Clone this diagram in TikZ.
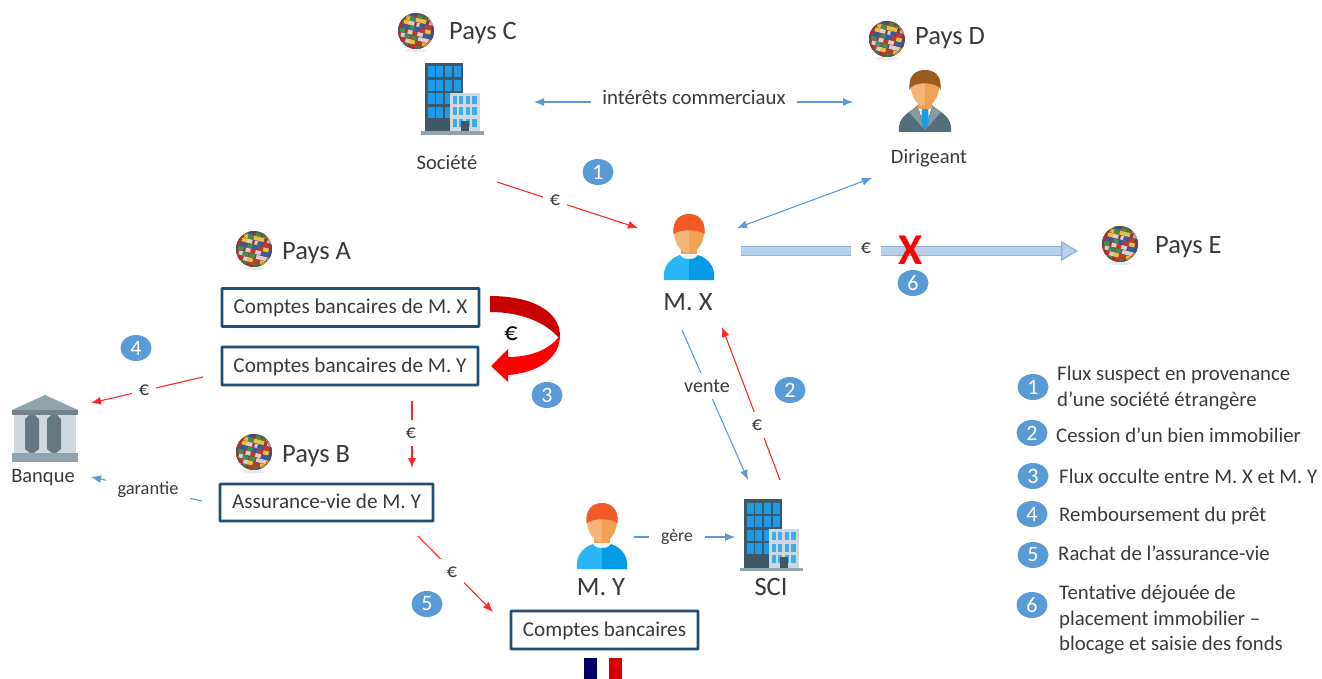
\documentclass[tikz,border=0pt]{standalone}
\usepackage{fontspec}
\setmainfont{Carlito}
\usetikzlibrary{arrows.meta,shapes.geometric}
\definecolor{txt}{HTML}{3A3A3A}
\definecolor{flowblue}{HTML}{5B9BD5}
\definecolor{boxblue}{HTML}{1F4E79}
\definecolor{bigfill}{HTML}{B7CFE8}
\definecolor{bigline}{HTML}{8FB2D8}
\definecolor{frame}{HTML}{3F5866}
\definecolor{win}{HTML}{1E9BE8}
\definecolor{lightframe}{HTML}{CFD8DC}
\definecolor{slate}{HTML}{90A4AE}
\definecolor{hair}{HTML}{F15A24}
\definecolor{faceA}{HTML}{F4B678}
\definecolor{faceB}{HTML}{F2A052}
\definecolor{bodyA}{HTML}{29B6F6}
\definecolor{bodyB}{HTML}{039BE5}
\definecolor{brownhair}{HTML}{9C5B1E}
\definecolor{suit}{HTML}{546E7A}
\definecolor{gA}{HTML}{C0392B}
\definecolor{gB}{HTML}{2E5FA3}
\definecolor{gC}{HTML}{E8C33A}
\definecolor{gD}{HTML}{3F8F4F}
\definecolor{gE}{HTML}{D9CFCF}
\definecolor{gF}{HTML}{8E3B46}
\tikzset{
  lbl/.style={text=txt,font=\fontsize{20.5}{24}\selectfont,inner sep=0pt,yshift=-2pt},
  big/.style={text=txt,font=\fontsize{26.5}{30}\selectfont,inner sep=0pt,yshift=-2pt},
  legend/.style={text=txt,font=\fontsize{20.8}{25.5}\selectfont,inner sep=0pt,anchor=west,align=left,yshift=-2pt},
  gap/.style={fill=white,text=txt,font=\fontsize{20}{22}\selectfont,inner xsep=7pt,inner ysep=3pt},
  badge/.style={ellipse,fill=flowblue,text=white,minimum width=31pt,minimum height=26pt,inner sep=0pt,font=\fontsize{22}{24}\selectfont},
  acct/.style={draw=boxblue,line width=2.6pt,fill=white,rounded corners=0.5pt,text=txt,font=\fontsize{21.2}{24}\selectfont,inner sep=0pt,text height=14.7pt,text depth=2.7pt},
  redflow/.style={draw=red!85,line width=1.1pt,-{Latex[length=10pt,width=8pt]}},
  blueflow/.style={draw=flowblue,line width=1.1pt,-{Latex[length=10pt,width=8pt]}},
  blueboth/.style={draw=flowblue,line width=1.1pt,{Latex[length=10pt,width=8pt]}-{Latex[length=10pt,width=8pt]}},
  bigflow/.style={draw=bigline,double=bigfill,double distance=7.5pt,line width=1.3pt,-{Triangle[length=17pt,width=20pt,fill=bigfill,color=bigline,line width=1.3pt]}},
  globe/.pic={
    \fill[black!8] (0,19.5) ellipse (11 and 1.8);
    \begin{scope}
      \clip (0,0) circle (18);
      \fill[gF] (-18,-18) rectangle (18,18);
      \pgfmathsetseed{23}
      \begin{scope}[rotate=-14]
      \foreach \cy in {-22,-17.5,...,20} {
        \foreach \cx in {-22,-16,...,20} {
          \pgfmathrandominteger{\k}{1}{6}
          \pgfmathrandominteger{\o}{0}{3}
          \ifcase\k\or\def\col{gA}\or\def\col{gB}\or\def\col{gC}\or\def\col{gD}\or\def\col{gE}\or\def\col{gA}\fi
          \fill[\col] (\cx+\o,\cy) rectangle (\cx+\o+5.6,\cy+4);
        }
      }
      \end{scope}
      \draw[gF!70!black,opacity=.3,line width=3pt] (0,0) circle (17.5);
    \end{scope}
  },
  tower/.pic={
    \fill[frame] (0,0) rectangle (38,69);
    \foreach \i in {0,1,2,3} \foreach \j in {0,1,2,3}
      \fill[win] (2.5+\i*8.8,3.5+\j*13.5) rectangle (9.5+\i*8.8,14.5+\j*13.5);
    \fill[lightframe] (25,30) rectangle (55,69);
    \foreach \i in {0,1,2,3} \foreach \j in {0,1,2}
      \fill[win!85] (27.5+\i*6.6,33+\j*11.5) rectangle (31.8+\i*6.6,41+\j*11.5);
    \fill[frame] (36,58) rectangle (44,69);
    \fill[slate] (-4,68.5) rectangle (59,72);
  },
  personicon/.pic={
    \fill[faceB] (-8,30) rectangle (8,44);
    \fill[white!92!gray] (-10,40) -- (10,40) -- (8,46) -- (-8,46) -- cycle;
    \fill[bodyA] (-25,66) .. controls (-27,52) and (-18,44) .. (-9,41) .. controls (-6,45) and (-3,45) .. (0,45) -- (0,66) -- cycle;
    \fill[bodyB] (25,66) .. controls (27,52) and (18,44) .. (9,41) .. controls (6,45) and (3,45) .. (0,45) -- (0,66) -- cycle;
    \fill[faceA] (-15.5,14) -- (0,14) -- (0,39) .. controls (-9,39) and (-15.5,28) .. (-15.5,14) -- cycle;
    \fill[faceB] (15.5,14) -- (0,14) -- (0,39) .. controls (9,39) and (15.5,28) .. (15.5,14) -- cycle;
    \fill[hair] (-15.5,20) .. controls (-17,5) and (-8,0) .. (0,0) .. controls (8,0) and (17,5) .. (15.5,20) .. controls (8,15) and (-8,15) .. (-15.5,20) -- cycle;
  },
  managericon/.pic={
    \fill[suit] (-26,62) .. controls (-28,46) and (-14,42) .. (-7,35) -- (7,35) .. controls (14,42) and (28,46) .. (26,62) -- cycle;
    \fill[suit!70!white] (-16,42) -- (-7,36) -- (-2,58) -- cycle;
    \fill[suit!70!white] (16,42) -- (7,36) -- (2,58) -- cycle;
    \fill[white] (-7,36) -- (7,36) -- (0,60) -- cycle;
    \fill[win] (-3,38) -- (3,38) -- (4,52) -- (0,60) -- (-4,52) -- cycle;
    \fill[faceB] (-7,28) rectangle (7,39);
    \fill[faceA] (-15,8) -- (0,8) -- (0,36) .. controls (-10,36) and (-15,24) .. (-15,8) -- cycle;
    \fill[faceB] (15,8) -- (0,8) -- (0,36) .. controls (10,36) and (15,24) .. (15,8) -- cycle;
    \fill[brownhair] (-15.5,20) .. controls (-17,4) and (-8,0) .. (0,0) .. controls (8,0) and (17,4) .. (15.5,20) .. controls (14,11) and (-14,11) .. (-15.5,20) -- cycle;
  },
  bankicon/.pic={
    \fill[lightframe] (2,20) rectangle (64,58);
    \fill[slate] (33,0) -- (66,15) -- (0,15) -- cycle;
    \fill[slate!80!black] (0,15) rectangle (66,20);
    \foreach \x in {13,35} {
      \fill[frame!80] (\x,24) -- (\x+4,20) -- (\x+10,20) -- (\x+14,24) -- (\x+14,54) -- (\x+9,58) -- (\x+5,58) -- (\x,54) -- cycle;
    }
    \fill[slate] (0,58) rectangle (66,67);
  }
}
\begin{document}
\begin{tikzpicture}[x=1pt,y=-1pt]
\useasboundingbox (0,0) rectangle (1322,679);
% pays
\pic at (416,31) {globe}; \node[big,anchor=west] (paysC) at (449,31) {Pays C};
\pic at (887,39) {globe}; \node[big,anchor=west] (paysD) at (915,36) {Pays D};
\pic at (254,249) {globe}; \node[big,anchor=west] (paysA) at (282,251) {Pays A};
\pic at (254,452) {globe}; \node[big,anchor=west] (paysB) at (282,454) {Pays B};
\pic at (1120,244) {globe}; \node[big,anchor=west] (paysE) at (1155,245) {Pays E};
% icons
\pic at (425,63) {tower};
\pic at (744,499) {tower};
\pic at (925,70) {managericon};
\pic at (689,214) {personicon};
\pic at (602,503) {personicon};
\pic at (12,395) {bankicon};
% labels
\node[lbl] (soc) at (447,161) {Société};
\node[lbl] (dir) at (929,156) {Dirigeant};
\node[big] (mx) at (688,300) {M. X};
\node[big] (my) at (601,585) {M. Y};
\node[big] (sci) at (771,585) {SCI};
\node[lbl] (banque) at (43,476) {Banque};
% boxes
\node[acct,minimum width=257pt,minimum height=38pt] (bx) at (350.5,307.5) {Comptes bancaires de M. X};
\node[acct,minimum width=256pt,minimum height=38pt] (by) at (350,366) {Comptes bancaires de M. Y};
\node[acct,minimum width=213pt,minimum height=37pt] (bv) at (326.5,502.5) {Assurance-vie de M. Y};
\node[acct,minimum width=187pt,minimum height=38pt] (bc) at (604.5,630) {Comptes bancaires};
% flag
\fill[blue!40!black] (584,658) rectangle (597,679);
\fill[red!85!black] (609,658) rectangle (622,679);
% endpoints
\coordinate (a2) at (534,102); \coordinate (a3) at (853,102);
\coordinate (s1) at (497,182); \coordinate (s2) at (638,228);
\coordinate (d1) at (872,178); \coordinate (d2) at (737,228);
\coordinate (e1) at (741,251); \coordinate (e2) at (1078,251);
\coordinate (v1) at (682,330); \coordinate (v2) at (748,480);
\coordinate (c1) at (780,480); \coordinate (c2) at (722,327);
\coordinate (b1) at (203,377); \coordinate (b2) at (91,403);
\coordinate (y1) at (412,401); \coordinate (y2) at (412,468);
\coordinate (g1) at (202,501); \coordinate (g2) at (91,477);
\coordinate (r1) at (418,536); \coordinate (r2) at (493,612);
\coordinate (m1) at (634,537); \coordinate (m2) at (735,537);
% connectors
\draw[blueboth] (a2) -- (a3);
\draw[redflow] (s1) -- (s2);
\draw[blueboth] (d1) -- (d2);
\draw[bigflow] (e1) -- (e2);
\draw[blueflow] (v1) -- (v2);
\draw[redflow] (c1) -- (c2);
\draw[redflow] (b1) -- (b2);
\draw[redflow] (y1) -- (y2);
\draw[blueflow] (g1) -- (g2);
\draw[redflow] (r1) -- (r2);
\draw[blueflow] (m1) -- (m2);
% connector labels
\node[gap,inner xsep=11pt,font=\fontsize{20.8}{24}\selectfont] (int) at (694,97) {intérêts commerciaux};
\node[gap] (e-s) at (555,200) {€};
\node[gap,inner xsep=10pt,inner ysep=8pt] (e-e) at (866,248) {€};
\node[gap,inner ysep=7pt] (vente) at (707,386) {vente};
\node[gap,inner ysep=8pt] (e-c) at (757,425) {€};
\node[gap] (e-b) at (144,390) {€};
\node[gap,inner ysep=8pt] (e-y) at (411,433) {€};
\node[gap,font=\fontsize{18.4}{20}\selectfont,inner xsep=12pt] (gar) at (148,490) {garantie};
\node[gap,inner ysep=8pt] (e-r) at (452,572) {€};
\node[gap,font=\fontsize{17.6}{20}\selectfont,inner xsep=12pt] (ger) at (677,537) {gère};
% curved arrow
\fill[red!78!black] (490,296) .. controls (530,296) and (560,310) .. (560,336) -- (558,337) .. controls (545,322) and (520,312) .. (490,312) -- cycle;
\fill[red] (560,335) .. controls (560,360) and (535,373) .. (508,375) -- (508,382) -- (491,366) -- (508,349) -- (508,357) .. controls (530,357) and (550,350) .. (560,335) -- cycle;
\node[text=black,inner sep=0pt,font=\fontsize{26}{28}\selectfont] (e-3) at (511,334) {€};
% cross
\node[text=red,inner sep=0pt,font=\fontsize{44}{44}\selectfont\bfseries,text height=28pt,text depth=0pt] (cross) at (911,250) {X};
% badges
\node[badge] (n1) at (598,172) {1};
\node[badge] (n2) at (790,390) {2};
\node[badge] (n3) at (547,395) {3};
\node[badge] (n4) at (136,348) {4};
\node[badge] (n5) at (427,604) {5};
\node[badge] (n6) at (913,283) {6};
% legend
\node[badge] (l1) at (1033,387) {1};
\node[badge] (l2) at (1032,433) {2};
\node[badge] (l3) at (1033,476) {3};
\node[badge] (l4) at (1032,514) {4};
\node[badge] (l5) at (1033,555) {5};
\node[badge] (l6) at (1032,605) {6};
\node[legend] (t1) at (1057,386) {Flux suspect en provenance\\d’une société étrangère};
\node[legend] (t2) at (1056,433) {Cession d’un bien immobilier};
\node[legend] (t3) at (1059,474) {Flux occulte entre M. X et M. Y};
\node[legend] (t4) at (1059,514) {Remboursement du prêt};
\node[legend] (t5) at (1058,551) {Rachat de l’assurance-vie};
\node[legend] (t6) at (1059,618) {Tentative déjouée de\\placement immobilier –\\blocage et saisie des fonds};
\end{tikzpicture}
\end{document}
